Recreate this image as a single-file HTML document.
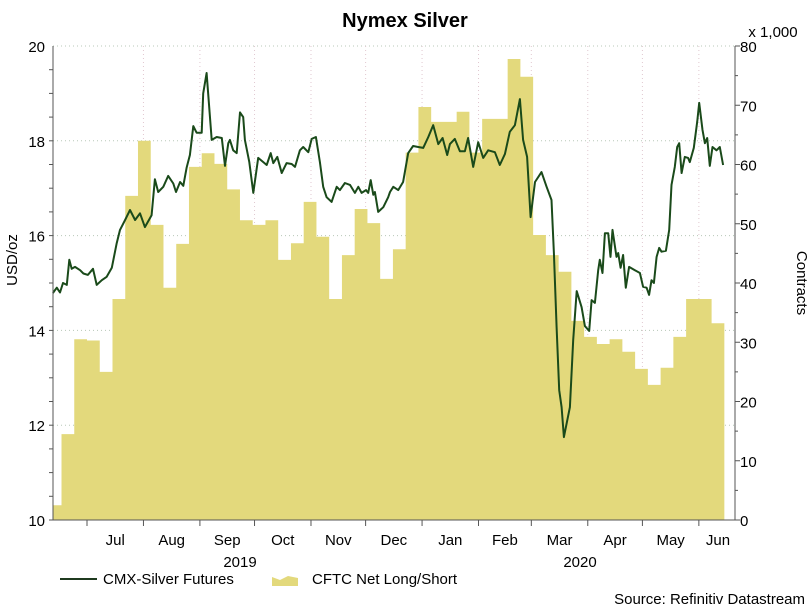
<!DOCTYPE html>
<html><head><meta charset="utf-8"><style>
body{margin:0;background:#fff;}
svg{display:block;font-family:"Liberation Sans",Arial,sans-serif;}
</style></head><body>
<svg id="chart" width="811" height="613" viewBox="0 0 811 613">
<text x="405" y="27" text-anchor="middle" font-size="20" font-weight="bold">Nymex Silver</text>
<text x="773" y="37" text-anchor="middle" font-size="15">x 1,000</text>
<text transform="translate(17,260) rotate(-90)" text-anchor="middle" font-size="15">USD/oz</text>
<text transform="translate(797,283) rotate(90)" text-anchor="middle" font-size="15">Contracts</text>
<g id="grid"></g>
<g id="bars"></g>
<g id="line"></g>
<g id="axes"></g>
<g>
<line x1="60" y1="579" x2="97" y2="579" stroke="#1f3a1f" stroke-width="2"/>
<text x="103" y="584" font-size="15">CMX-Silver Futures</text>
<path d="M272 586 L272 577 L280 580 L288 576 L298 578 L298 586 Z" fill="#e3d97c"/>
<text x="312" y="584" font-size="15">CFTC Net Long/Short</text>
</g>
<text x="805" y="604" text-anchor="end" font-size="15">Source: Refinitiv Datastream</text>
</svg>
<script>
// days offset from 2019-07-01
const priceDays=[-18.7,-16.6,-14.8,-13.2,-11.1,-9.7,-8.4,-6.6,-3.8,-2.0,0.5,3.3,5.3,8.1,10.8,13.6,16.3,18.1,20.9,23.6,26.4,29.1,31.8,35.5,37.3,39.1,41.9,44.6,47.4,48.9,51.1,52.9,54.7,56.5,58.4,60.2,63.0,63.8,65.7,68.5,71.2,74.0,75.8,77.6,78.5,80.3,82.2,84.0,85.8,86.7,89.1,91.3,94.0,96.8,98.7,100.9,102.3,104.5,106.9,109.6,112.4,114.2,116.9,118.7,121.5,123.4,125.7,127.9,129.7,131.6,134.3,137.1,138.9,141.6,144.4,147.1,149.0,150.8,153.2,154.4,155.8,157.2,158.1,159.9,162.7,165.4,166.4,168.2,170.9,173.6,176.4,179.1,181.9,184.6,187.4,190.1,192.9,195.3,197.8,199.3,202.0,204.8,207.5,209.3,212.1,214.8,217.6,220.3,224.0,226.7,229.5,232.2,235.0,237.7,239.5,241.7,243.6,246.0,249.6,252.4,255.1,256.4,257.9,259.3,260.6,261.9,265.2,267.0,268.9,271.6,273.4,275.8,277.1,278.9,280.7,281.6,283.1,284.4,286.2,287.5,288.6,290.8,291.7,293.0,294.4,295.9,297.7,300.9,303.6,305.4,307.3,308.7,310.0,311.3,312.8,314.2,315.5,317.9,319.7,321.0,322.8,324.1,325.2,326.5,328.3,330.1,331.0,333.2,335.1,336.2,338.0,339.3,340.6,342.0,343.5,345.7,347.5,349.3];
const prices=[14.79,14.9,14.8,15.0,14.96,15.49,15.3,15.34,15.27,15.2,15.17,15.3,14.96,15.06,15.13,15.32,15.84,16.12,16.33,16.54,16.33,16.47,16.18,16.43,17.19,16.92,17.03,17.26,17.1,16.92,17.13,17.05,17.43,17.7,18.31,18.17,18.17,19.0,19.43,18.02,18.08,18.06,17.47,17.95,18.02,17.8,17.74,18.6,18.5,18.02,17.55,16.9,17.64,17.55,17.49,17.74,17.53,17.66,17.32,17.53,17.51,17.45,17.8,17.87,17.76,18.04,18.08,17.55,17.03,16.81,16.71,17.03,16.96,17.11,17.07,16.9,17.03,16.9,16.96,16.9,17.17,16.86,16.92,16.5,16.6,16.81,16.92,17.03,16.96,17.13,17.74,17.89,17.87,17.85,18.08,18.33,17.93,18.06,17.7,17.93,18.04,17.78,17.78,18.06,17.45,17.97,17.64,17.8,17.76,17.49,17.72,18.19,18.33,18.88,18.02,17.66,16.39,17.13,17.34,17.03,16.75,15.63,14.07,12.74,12.38,11.75,12.38,13.8,14.83,14.49,14.09,13.99,14.64,14.58,15.27,15.49,15.21,16.05,16.05,15.55,16.12,15.55,15.63,15.32,15.59,14.9,15.34,15.27,15.21,14.92,14.9,14.75,15.06,15.0,15.55,15.74,15.66,15.68,16.12,17.07,17.45,17.87,17.95,17.32,17.66,17.64,17.55,17.85,18.4,18.8,18.23,17.95,18.06,17.47,17.87,17.8,17.87,17.49];
// weekly CFTC net long/short (thousands), weeks starting 2019-06-10
const cftc=[2.5,14.5,30.5,30.3,25,37.3,54.7,64,49.8,39.2,46.6,59.6,61.9,60.1,55.8,50.6,49.8,50.6,43.9,46.7,53.7,47.8,37.3,44.7,52.5,50.1,40.7,45.7,62,69.7,67.2,67.2,68.9,62,67.7,67.7,77.8,74.8,48.1,44.7,41.9,33.6,30.9,29.7,30.5,28.4,25.5,22.8,25.7,30.9,37.3,37.3,33.2];
const cftcStartDay=-21;
const monthLabels=["Jul","Aug","Sep","Oct","Nov","Dec","Jan","Feb","Mar","Apr","May","Jun"];
const monthStartDays=[0,31,62,92,123,153,184,215,244,275,305,336,366];
const leftTicks=[10,12,14,16,18,20];
const rightTicks=[0,10,20,30,40,50,60,70,80];

const NS="http://www.w3.org/2000/svg";
const L=53,R=735,T=46,B=520;
const xs=d=>87+d*1.821;
const yL=v=>B-(v-10)/10*(B-T);
const yR=v=>B-v/80*(B-T);
function mk(tag,attrs,parent){const e=document.createElementNS(NS,tag);for(const k in attrs)e.setAttribute(k,attrs[k]);parent.appendChild(e);return e;}
const grid=document.getElementById('grid'),bars=document.getElementById('bars'),line=document.getElementById('line'),axes=document.getElementById('axes');

leftTicks.forEach(v=>{
  const g=mk('line',{x1:L,x2:R,y1:yL(v),y2:yL(v),stroke:'#b8c8b8','stroke-dasharray':'1,3'},grid);
  
  
  const t=mk('text',{x:L-8,y:yL(v)+6,'text-anchor':'end','font-size':15},axes);t.textContent=v;
  
  
});
rightTicks.forEach(v=>{
  const t=mk('text',{x:R+5,y:yR(v)+6,'font-size':15},axes);t.textContent=v;
  
  
  mk('line',{x1:R,x2:R+5,y1:yR(v),y2:yR(v),stroke:'#555'},axes);
  if(v<80)mk('line',{x1:R,x2:R+3,y1:yR(v+5),y2:yR(v+5),stroke:'#555'},axes);
});
for(let v=10;v<20;v+=0.5){mk('line',{x1:L-4,x2:L,y1:yL(v),y2:yL(v),stroke:'#555'},axes);}
monthStartDays.slice(0,12).forEach((d,i)=>{
  const x=xs(d);
  if(i>0){const g=mk('line',{x1:x,x2:x,y1:T,y2:B,stroke:'#e0c8d0','stroke-dasharray':'1,3'},grid);
  
  }
  mk('line',{x1:x,x2:x,y1:B,y2:B+6,stroke:'#555'},axes);
  const xm=(xs(d)+Math.min(xs(monthStartDays[i+1]),xs(349)))/2;
  const t=mk('text',{x:i==11?718:xm,y:545,'text-anchor':'middle','font-size':15},axes);t.textContent=monthLabels[i];
  
  
});
[["2019",240],["2020",580]].forEach(([s,x])=>{const t=mk('text',{x:x,y:567,'text-anchor':'middle','font-size':15},axes);t.textContent=s;
  
  });

// area
let d='M'+L+' '+B;
cftc.forEach((v,i)=>{const x0=Math.max(L,xs(cftcStartDay+7*i)),x1=xs(cftcStartDay+7*i+7);d+=` L${x0} ${yR(v)} L${x1} ${yR(v)}`;});
d+=` L${xs(cftcStartDay+7*cftc.length)} ${B} Z`;
const area=mk('path',{d:d,fill:'#e3d97c'},bars);



const pts=priceDays.map((dd,i)=>xs(dd).toFixed(1)+','+yL(prices[i]).toFixed(1)).join(' ');
const pl=mk('polyline',{points:pts,fill:'none',stroke:'#1a4a1a','stroke-width':2,'stroke-linejoin':'round'},line);



const ax1=mk('line',{x1:L,x2:L,y1:T,y2:B,stroke:'#555'},axes);


const ax2=mk('line',{x1:R,x2:R,y1:T,y2:B,stroke:'#555'},axes);


const ax3=mk('line',{x1:L,x2:R,y1:B,y2:B,stroke:'#555'},axes);


</script>
</body></html>
